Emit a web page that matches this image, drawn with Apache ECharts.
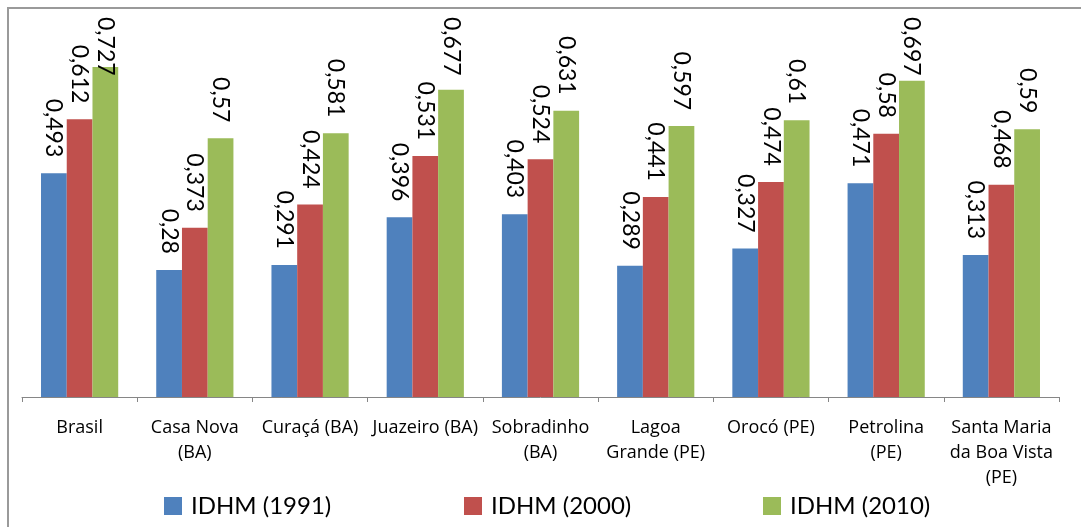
<!DOCTYPE html>
<html>
<head>
<meta charset="utf-8">
<script src="https://cdn.jsdelivr.net/npm/echarts@6/dist/echarts.min.js"></script>
<style>
html,body{margin:0;padding:0;background:#fff;}
#c{width:1081px;height:527px;}
</style>
</head>
<body>
<div id="c"></div>
<script>
const categories = ["Brasil", "Casa Nova\n(BA)", "Curaçá (BA)", "Juazeiro (BA)", "Sobradinho\n(BA)", "Lagoa\nGrande (PE)", "Orocó (PE)", "Petrolina\n(PE)", "Santa Maria\nda Boa Vista\n(PE)"];
const seriesNames = ["IDHM (1991)", "IDHM (2000)", "IDHM (2010)"];
const idhm1991 = [0.493, 0.28, 0.291, 0.396, 0.403, 0.289, 0.327, 0.471, 0.313];
const idhm2000 = [0.612, 0.373, 0.424, 0.531, 0.524, 0.441, 0.474, 0.58, 0.468];
const idhm2010 = [0.727, 0.57, 0.581, 0.677, 0.631, 0.597, 0.61, 0.697, 0.59];

const colors = ['#4F81BD', '#C0504D', '#9BBB59'];
const FONT = 'Lato';
const LABEL_TOP = 17;
const chart = echarts.init(document.getElementById('c'), null, {renderer: 'canvas'});

function mkSeries(name, data, color) {
  return {
    name: name, type: 'bar', data: data,
    barGap: '0%', barCategoryGap: '33%',
    itemStyle: {color: color},
    label: {
      show: true, position: 'top', rotate: -90, align: 'right', verticalAlign: 'middle',
      distance: 16, color: '#000', fontFamily: FONT, fontSize: 23,
      formatter: p => String(p.value).replace('.', ',')
    },
    labelLayout: function (params) {
      const r = params.labelRect;
      if (r.y < LABEL_TOP) {
        return {y: LABEL_TOP + r.height};
      }
      return {};
    }
  };
}
const legendLefts = [164, 464, 763];
chart.setOption({
  animation: false,
  color: colors,
  grid: {left: 22, right: 22, top: 34, bottom: 130, containLabel: false},
  legend: seriesNames.map((n, i) => ({
    data: [n], left: legendLefts[i], top: 494, padding: 0, itemWidth: 18, itemHeight: 18, icon: 'rect',
    textStyle: {fontFamily: FONT, fontSize: 24, color: '#000', padding: [0, 0, 0, 4]}
  })),
  xAxis: {
    type: 'category', data: categories,
    axisLine: {lineStyle: {color: '#868686', width: 1}},
    axisTick: {show: true, length: 5, lineStyle: {color: '#868686'}},
    axisLabel: {fontFamily: 'Open Sans', fontSize: 18, color: '#000', lineHeight: 25, margin: 18, interval: 0}
  },
  yAxis: {
    type: 'value', min: 0, max: 0.8, show: false,
    splitLine: {show: false}
  },
  graphic: [{
    type: 'rect', shape: {x: 8, y: 8, width: 1090, height: 540},
    style: {fill: 'none', stroke: '#9a9a9a', lineWidth: 2}, silent: true
  }],
  series: [
    mkSeries(seriesNames[0], idhm1991, colors[0]),
    mkSeries(seriesNames[1], idhm2000, colors[1]),
    mkSeries(seriesNames[2], idhm2010, colors[2])
  ]
});
</script>
</body>
</html>
